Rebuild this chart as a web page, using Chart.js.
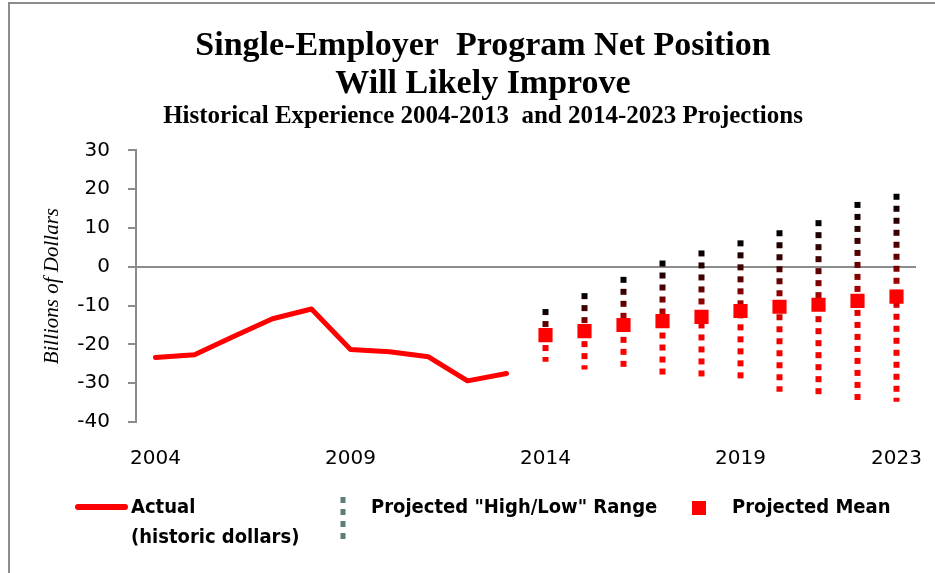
<!DOCTYPE html>
<html>
<head>
<meta charset="utf-8">
<script src="https://cdn.jsdelivr.net/npm/chart.js@4.4.1/dist/chart.umd.min.js"></script>
<style>
  html, body { margin: 0; padding: 0; background: #fff; }
  #wrap { width: 935px; height: 573px; position: relative; }
</style>
</head>
<body>
<div id="wrap"><canvas id="chart" width="935" height="573"></canvas></div>
<script>
// years on the category axis
var years = ['2004','2005','2006','2007','2008','2009','2010','2011','2012','2013',
             '2014','2015','2016','2017','2018','2019','2020','2021','2022','2023'];
var xTickLabels = ['2004','2009','2014','2019','2023'];

// actual net position 2004-2013 (billions)
var actualYears = ['2004','2005','2006','2007','2008','2009','2010','2011','2012','2013'];
var actualValues = [-23.4, -22.7, -18.0, -13.4, -10.9, -21.3, -21.9, -23.2, -29.4, -27.5];

// projections 2014-2023
var projYears = ['2014','2015','2016','2017','2018','2019','2020','2021','2022','2023'];
var projMean = [-17.6, -16.6, -15.0, -14.0, -12.9, -11.4, -10.3, -9.8, -8.8, -7.7];
var projHigh = [-10.9, -6.8, -2.6, 1.6, 4.2, 6.8, 9.4, 12.0, 16.7, 18.8];
var projLow  = [-24.5, -26.5, -26.0, -28.0, -28.6, -29.1, -32.2, -33.3, -34.3, -34.8];

var legendLabels = ['Actual\n(historic dollars)', 'Projected "High/Low" Range', 'Projected Mean'];

var canvas = document.getElementById('chart');
var cx = canvas.getContext('2d');

var actualData = actualYears.map(function (y, i) { return { x: y, y: actualValues[i] }; });
var meanData = projYears.map(function (y, i) { return { x: y, y: projMean[i] }; });
// high -> low for each year, null in between so every year is its own segment
var rangeData = [];
projYears.forEach(function (y, i) {
  rangeData.push({ x: y, y: projHigh[i] });
  rangeData.push({ x: y, y: projLow[i] });
  rangeData.push({ x: y, y: null });
});

function rangeColor(ctx) {
  var g = cx.createLinearGradient(0, ctx.p0.y, 0, ctx.p1.y);
  g.addColorStop(0, '#000000');
  g.addColorStop(0.3, '#600000');
  g.addColorStop(0.6, '#f00000');
  g.addColorStop(1, '#ff0000');
  return g;
}

var frame = {
  id: 'frame',
  afterDraw: function (chart) {
    var c = chart.ctx;
    c.save();
    c.strokeStyle = '#8c8c8c';
    c.lineWidth = 2;
    c.beginPath();
    c.moveTo(9, 573);
    c.lineTo(9, 3);
    c.lineTo(935, 3);
    c.stroke();
    c.restore();
  }
};

var bottomLegend = {
  id: 'bottomLegend',
  afterDraw: function (chart) {
    var c = chart.ctx;
    c.save();
    c.font = 'bold 20px "Liberation Sans Narrow", "DejaVu Sans Condensed", "Liberation Sans", sans-serif';
    c.fillStyle = '#000';
    c.textBaseline = 'middle';
    c.textAlign = 'left';

    // actual
    c.strokeStyle = '#ff0000';
    c.lineWidth = 6;
    c.lineCap = 'round';
    c.beginPath();
    c.moveTo(78, 507);
    c.lineTo(125, 507);
    c.stroke();
    var lines = legendLabels[0].split('\n');
    c.fillText(lines[0], 131, 508);
    c.fillText(lines[1], 131, 538);

    // range
    c.strokeStyle = '#5b7f78';
    c.lineWidth = 5;
    c.lineCap = 'butt';
    c.setLineDash([6, 6]);
    c.beginPath();
    c.moveTo(343, 497);
    c.lineTo(343, 541);
    c.stroke();
    c.setLineDash([]);
    c.fillText(legendLabels[1], 371, 508);

    // mean
    c.fillStyle = '#ff0000';
    c.fillRect(692, 501, 14, 14);
    c.fillStyle = '#000';
    c.fillText(legendLabels[2], 732, 508);
    c.restore();
  }
};

new Chart(cx, {
  type: 'line',
  data: {
    labels: years,
    datasets: [
      {
        label: 'Projected Mean',
        data: meanData,
        showLine: false,
        pointStyle: 'rect',
        pointRadius: 10,
        pointHoverRadius: 10,
        pointBackgroundColor: '#ff0000',
        pointBorderWidth: 0,
        order: 0
      },
      {
        label: 'Actual',
        data: actualData,
        borderColor: '#ff0000',
        borderWidth: 5,
        borderJoinStyle: 'round',
        borderCapStyle: 'round',
        pointRadius: 0,
        tension: 0,
        order: 1
      },
      {
        label: 'Projected Range',
        data: rangeData,
        borderColor: '#ff0000',
        borderWidth: 6,
        borderDash: [6, 6],
        borderCapStyle: 'butt',
        pointRadius: 0,
        spanGaps: false,
        segment: {
          borderColor: rangeColor,
          borderDash: [6, 6]
        },
        order: 2
      }
    ]
  },
  options: {
    responsive: false,
    animation: false,
    events: [],
    layout: { padding: { left: 50, right: 19, top: 0, bottom: 0 } },
    plugins: {
      legend: { display: false },
      tooltip: { enabled: false },
      title: {
        display: true,
        text: ['Single-Employer  Program Net Position', 'Will Likely Improve'],
        color: '#000',
        font: { family: '"Liberation Serif", serif', size: 34, weight: 'bold', lineHeight: 1.1 },
        padding: { top: 28, bottom: 0 }
      },
      subtitle: {
        display: true,
        text: 'Historical Experience 2004-2013  and 2014-2023 Projections',
        color: '#000',
        font: { family: '"Liberation Serif", serif', size: 25, weight: 'bold', lineHeight: 1.1 },
        padding: { top: 0, bottom: 20 }
      }
    },
    scales: {
      x: {
        type: 'category',
        offset: true,
        grid: { display: false, drawTicks: false },
        border: { display: false },
        ticks: {
          autoSkip: false,
          maxRotation: 0,
          padding: 25,
          color: '#000',
          font: { family: '"DejaVu Sans", sans-serif', size: 20 },
          callback: function (v, i) {
            return xTickLabels.indexOf(years[i]) >= 0 ? years[i] : '';
          }
        },
        afterFit: function (s) {
          s.height = 151;
          s.paddingLeft = 0;
          s.paddingRight = 0;
        }
      },
      y: {
        min: -40,
        max: 30,
        ticks: {
          stepSize: 10,
          padding: 18,
          color: '#000',
          font: { family: '"DejaVu Sans", sans-serif', size: 20 }
        },
        grid: {
          color: function (ctx) { return ctx.tick && ctx.tick.value === 0 ? '#8c8c8c' : 'rgba(0,0,0,0)'; },
          tickColor: '#8c8c8c',
          tickLength: 8,
          lineWidth: 2
        },
        border: { display: true, color: '#8c8c8c', width: 2 },
        title: {
          display: true,
          text: 'Billions of Dollars',
          color: '#000',
          font: { family: '"Liberation Serif", serif', size: 21, style: 'italic', lineHeight: 1.2 },
          padding: { top: -10, bottom: 0 }
        },
        afterFit: function (s) {
          s.width = 86;
          s.paddingTop = 0;
          s.paddingBottom = 0;
        }
      }
    }
  },
  plugins: [frame, bottomLegend]
});
</script>
</body>
</html>
